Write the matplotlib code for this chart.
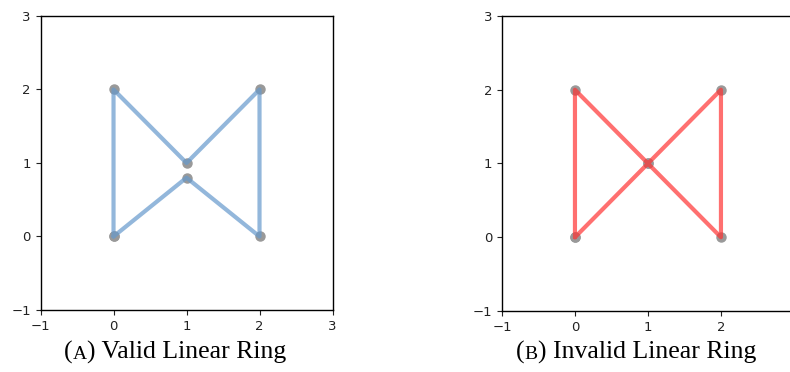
#!/usr/bin/env python3
"""Valid vs invalid linear ring, side by side."""

import matplotlib

matplotlib.use("Agg")
import matplotlib.pyplot as plt
from matplotlib.offsetbox import AnchoredOffsetbox, HPacker, TextArea

BLUE = "#6699cc"
RED = "#ff3333"
GRAY = "#999999"

# ring vertices
valid_x = [0, 0, 1, 2, 2, 1, 0]
valid_y = [0, 2, 1, 2, 0, 0.8, 0]
invalid_x = [0, 0, 1, 2, 2, 1, 0]
invalid_y = [0, 2, 1, 0, 2, 1, 0]

ticks = [-1, 0, 1, 2, 3]
captions = [("A", "Valid Linear Ring"), ("B", "Invalid Linear Ring")]

SERIF = ["Liberation Serif", "DejaVu Serif"]


def draw_ring(ax, xs, ys, color):
    ax.plot(xs, ys, "o", color=GRAY, markersize=6.5, zorder=1)
    ax.plot(xs, ys, color=color, alpha=0.7, linewidth=3,
            solid_capstyle="round", zorder=2)
    ax.set_xlim(-1, 3)
    ax.set_ylim(-1, 3)
    ax.set_xticks(ticks)
    ax.set_yticks(ticks)
    ax.tick_params(labelsize=9.5, length=3.5, colors="#222222")
    for spine in ax.spines.values():
        spine.set_linewidth(1.0)


def add_caption(fig, letter, text, x_center):
    parts = [
        TextArea("(", textprops=dict(family=SERIF, size=18.5)),
        TextArea(letter, textprops=dict(family=SERIF, size=14)),
        TextArea(") " + text, textprops=dict(family=SERIF, size=18.5)),
    ]
    box = HPacker(children=parts, align="baseline", pad=0, sep=0)
    anchored = AnchoredOffsetbox(loc="upper center", child=box, pad=0,
                                 frameon=False, bbox_to_anchor=(x_center, 0.083),
                                 bbox_transform=fig.transFigure, borderpad=0)
    fig.add_artist(anchored)


def main() -> None:
    fig = plt.figure(figsize=(7.9, 3.72), dpi=100)
    ax_a = fig.add_axes([0.0513, 0.1667, 0.3696, 0.7903])
    ax_b = fig.add_axes([0.6354, 0.1640, 0.3696, 0.7930])

    draw_ring(ax_a, valid_x, valid_y, BLUE)
    draw_ring(ax_b, invalid_x, invalid_y, RED)

    add_caption(fig, *captions[0], x_center=0.2215)
    add_caption(fig, *captions[1], x_center=0.805)

    fig.savefig("out.png", dpi=100)
    plt.close(fig)


if __name__ == "__main__":
    main()
